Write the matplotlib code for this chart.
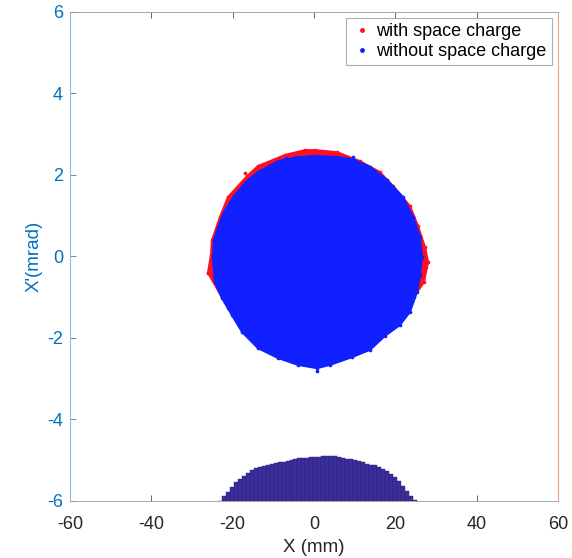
import numpy as np
import matplotlib.pyplot as plt

plt.rcParams['font.family'] = ['Liberation Sans', 'DejaVu Sans']
plt.rcParams['axes.unicode_minus'] = False

# outline of the particle cloud without space charge (X in mm, X' in mrad)
blue_x = [0.24, 5.65, 9.34, 13.77, 17.94, 21.88, 24.34, 26.06, 26.55, 26.06, 25.32,
          23.6, 21.14, 17.45, 13.77, 9.34, 3.93, 0.73, -3.94, -8.86, -13.77, -17.71,
          -20.17, -22.63, -24.35, -24.84, -24.6, -23.61, -22.13, -19.68, -16.72,
          -13.77, -8.86, -4.43]
blue_y = [2.47, 2.44, 2.39, 2.20, 1.88, 1.46, 0.97, 0.48, -0.01, -0.45, -0.87,
          -1.36, -1.68, -1.95, -2.29, -2.47, -2.66, -2.74, -2.66, -2.49, -2.25, -1.85,
          -1.44, -1.02, -0.63, -0.04, 0.40, 0.70, 1.09, 1.48, 1.83,
          2.07, 2.34, 2.43]

# outline of the cloud with space charge
red_x = [0.24, 5.65, 11.3, 16.22, 19.42, 23.6, 25.57, 27.29, 28.03, 27.04, 24.58,
         20.5, 6.88, -3.94, -13.77, -21.15, -26.07, -25.33, -25.08, -23.12, -21.15,
         -16.36, -13.77, -7.14, -2.22]
red_y = [2.61, 2.56, 2.34, 2.07, 1.73, 1.24, 0.75, 0.23, -0.13, -0.63, -0.99,
         -1.60, -2.45, -2.55, -2.10, -1.26, -0.40, 0.04, 0.40, 0.97, 1.46,
         1.98, 2.22, 2.49, 2.61]

# isolated particles outside the dense core
stray_red_x = [-16.97, -26.07, 27.6]
stray_red_y = [2.05, -0.40, -0.25]
stray_blue_x = [0.73, -6.9, 9.6]
stray_blue_y = [-2.80, 2.42, 2.43]

# histogram of X (bar heights above the -6 baseline, in axis units)
hist_start = -23.7
hist_width = 0.982
hist_heights = [0.008, 0.131, 0.229, 0.352, 0.458, 0.540, 0.622, 0.687, 0.753, 0.802,
                0.843, 0.867, 0.892, 0.908, 0.933, 0.949, 0.965, 0.990, 1.006, 1.031,
                1.047, 1.055, 1.063, 1.072, 1.080, 1.088, 1.096, 1.096, 1.104, 1.104,
                1.080, 1.055, 1.039, 1.022, 1.006, 0.982, 0.949, 0.916, 0.892, 0.875,
                0.843, 0.785, 0.728, 0.671, 0.581, 0.483, 0.376, 0.254, 0.131, 0.033]

red = '#ff1020'
blue = '#1020ff'
axblue = '#0072BD'

fig = plt.figure(figsize=(5.72, 5.58), dpi=100)
ax = fig.add_axes([0.1224, 0.1022, 0.8531, 0.8763])

ax.fill(red_x, red_y, color=red, lw=1.5, joinstyle='round', zorder=2)
ax.scatter(red_x + stray_red_x, red_y + stray_red_y, s=7, color=red, lw=0, zorder=2)
ax.fill(blue_x, blue_y, color=blue, lw=1.5, joinstyle='round', zorder=3)
ax.scatter(blue_x + stray_blue_x, blue_y + stray_blue_y, s=7, color=blue, lw=0, zorder=3)

lefts = hist_start + hist_width * np.arange(len(hist_heights))
ax.bar(lefts, hist_heights, width=hist_width, bottom=-6, align='edge',
       color='#3a2e9c', edgecolor='#2a2070', linewidth=0.3, zorder=4)

# legend handles
ax.plot([], [], '.', color=red, ms=5, label='with space charge')
ax.plot([], [], '.', color=blue, ms=5, label='without space charge')
leg = ax.legend(loc='upper right', fontsize=13, frameon=True, fancybox=False,
                handlelength=1.2, handletextpad=0.2, borderpad=0.3,
                labelspacing=0.15, borderaxespad=0.33)
leg.get_frame().set_edgecolor('#999999')
leg.get_frame().set_linewidth(0.8)

ax.set_xlim(-60, 60)
ax.set_ylim(-6, 6)
ax.set_xticks(np.arange(-60, 61, 20))
ax.set_yticks(np.arange(-6, 7, 2))
ax.tick_params(direction='in', length=4, width=0.5, labelsize=13, top=True,
               colors='#262626')
ax.tick_params(axis='y', colors=axblue, labelcolor=axblue, pad=5)
ax.tick_params(axis='x', pad=11)

for s in ['top', 'bottom']:
    ax.spines[s].set_color('#999999')
    ax.spines[s].set_linewidth(0.6)
ax.spines['left'].set_color('#8cbde3')
ax.spines['left'].set_linewidth(0.8)
ax.spines['right'].set_color('#f0a080')
ax.spines['right'].set_linewidth(0.8)

ax.set_xlabel('X (mm)', fontsize=13.5, color='#262626', labelpad=4)
ax.set_ylabel("X'(mrad)", fontsize=13.5, color=axblue, labelpad=3)

fig.savefig('out.png', dpi=100)
